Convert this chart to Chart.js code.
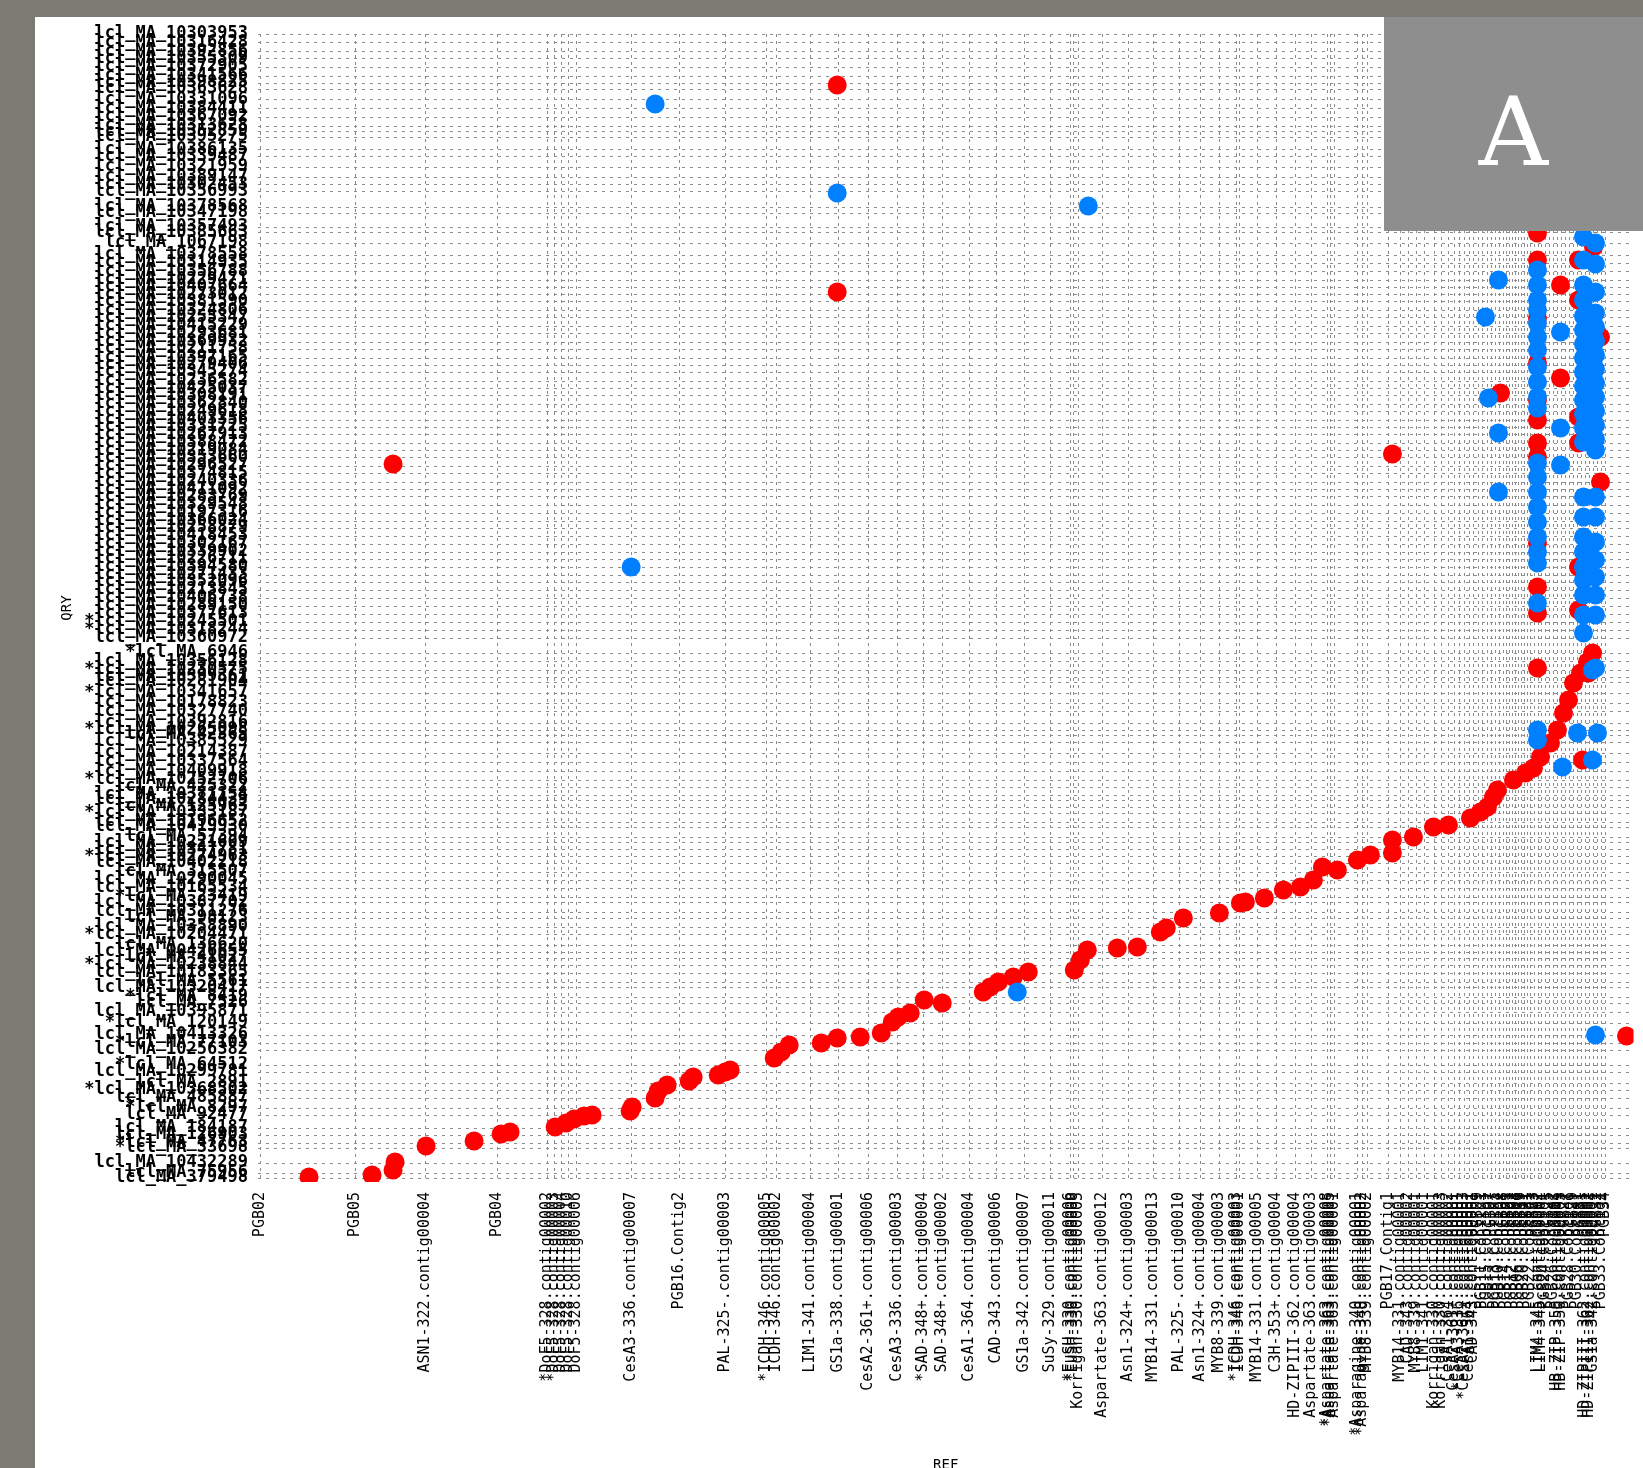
<!DOCTYPE html>
<html>
<head>
<meta charset="utf-8">
<title>REF vs QRY dot plot</title>
<script src="https://cdn.jsdelivr.net/npm/chart.js@4.4.1/dist/chart.umd.min.js"></script>
<style>
  html, body { margin: 0; padding: 0; overflow: hidden; background: #7b7b73; }
  #panel { position: absolute; left: 35px; top: 17px; right: 0; bottom: 0; background: #fff; }
  #plot { position: absolute; left: 0; top: 0; }
  #tag {
    position: absolute; left: 1384px; top: 17px; width: 259px; height: 214px;
    background: #8e8e8e; color: #fff; text-align: center;
    font-family: "DejaVu Serif", serif; font-size: 96px; line-height: 96px;
    box-sizing: border-box; padding-top: 67px;
  }
</style>
</head>
<body>
<div id="panel"></div>
<canvas id="plot" width="1643" height="1490"></canvas>
<div id="tag">A</div>
<script>
// reference contigs (x axis), cumulative start position
const refLabels = [
  "PGB02", "PGB05", "ASN1-322.contig00004", "PGB04",
  "*DoF5-328.contig00002", "*DoF5-328.contig00003", "DoF5-328.contig00004", "DoF5-328.contig00010", "DoF5-328.contig00006",
  "CesA3-336.contig00007", "PGB16.Contig2", "PAL-325-.contig00003",
  "*ICDH-346.contig00005", "ICDH-346.contig00002", "LIM1-341.contig00004", "GS1a-338.contig00001",
  "CesA2-361+.contig00006", "CesA3-336.contig00003", "*SAD-348+.contig00004", "SAD-348+.contig00002",
  "CesA1-364.contig00004", "CAD-343.contig00006", "GS1a-342.contig00007", "SuSy-329.contig00011",
  "*EuSH-330.contig00006", "*EuSH-330.contig00008", "Korrigan-330.contig00005", "Aspartate-363.contig00012",
  "Asn1-324+.contig00003", "MYB14-331.contig00013", "PAL-325-.contig00010", "Asn1-324+.contig00004",
  "MYB8-339.contig00003", "*ICDH-346.contig00003", "ICDH-346.contig00001", "MYB14-331.contig00005",
  "C3H-353+.contig00004", "HD-ZIPIII-362.contig00004", "Aspartate-363.contig00003",
  "*Aspartate-363.contig00008", "*Aspartate-363.contig00005", "Aspartate-363.contig00001",
  "*Asparagine-340.contig00001", "*Asparagine-340.contig00002", "MYB8-339.contig00002",
  "PGB17.Contig1", "MYB14-331.contig00001", "CAD-343.contig00002", "MYB8-339.contig00001",
  "LIM1-341.contig00001", "Korrigan-330.contig00001", "Korrigan-330.contig00003", "CesA1-364.contig00002",
  "CesA2-361+.contig00001", "*CesA3-336.contig00001", "*CesA2-361+.contig00003", "CesA1-364.contig00001",
  "CAD-343.contig00001", "PGB09", "PGB11.Contig1", "PGB15.Contig1", "PGB07", "PGB13.Contig1",
  "PGB10.Contig2", "PGB08", "PGB14.Contig1", "PGB01", "PGB12.Contig2", "PGB03", "PGB06.Contig1",
  "PGB19", "PGB20.Contig1", "PGB21", "PGB22.Contig1", "PGB23", "LIM4-345.contig00002",
  "LIM4-345.contig00001", "PGB24.Contig1", "PGB25", "PGB26.Contig2", "HB-ZIP-350.contig00001",
  "HB-ZIP-350.contig00003", "PGB27", "PGB28.Contig1", "PGB29", "PGB30.Contig1", "PGB31",
  "HD-ZIPIII-362.contig00001", "HD-ZIPIII-362.contig00002", "GS1a-342.contig00001", "PGB32",
  "PGB33.Contig1", "PGB34"
];
const refPos = [
  2, 97, 167, 239,
  289, 296, 303, 310, 318,
  373, 421, 467,
  508, 518, 552, 580,
  610, 639, 665, 684,
  711, 738, 766, 792,
  812, 815, 820, 844,
  870, 895, 921, 942,
  961, 978, 981, 999,
  1018, 1037, 1053,
  1069, 1072, 1076,
  1099, 1104, 1109,
  1130, 1142, 1150, 1158,
  1166, 1176, 1183, 1190,
  1196, 1201, 1206, 1211,
  1215, 1220, 1224, 1229, 1233, 1237,
  1241, 1245, 1248, 1251, 1254, 1257, 1260,
  1263, 1266, 1269, 1272, 1276, 1280,
  1283, 1287, 1291, 1295, 1299,
  1303, 1307, 1311, 1315, 1319, 1323,
  1327, 1331, 1335, 1339,
  1343, 1347
];

// query contigs (y axis), bottom to top
const qryLabels = [
  "lcl_MA_379498", "lcl_MA_75956", "lcl_MA_10432289", "*lcl_MA_33698", "*lcl_MA_47763", "lcl_MA_126903",
  "lcl_MA_184187", "lcl_MA_92477", "*lcl_MA_8297", "lcl_MA_485887", "*lcl_MA_10368502", "lcl_MA_2891",
  "lcl_MA_10299781", "*lcl_MA_64512",
  "lcl_MA_10256382", "*lcl_MA_77103", "lcl_MA_10413326", "*lcl_MA_120149", "lcl_MA_10395871", "lcl_MA_7526",
  "*lcl_MA_8419", "lcl_MA_10320417", "lcl_MA_5561", "lcl_MA_10183365", "*lcl_MA_10238844", "lcl_MA_41027",
  "lcl_MA_10426655", "lcl_MA_136620", "*lcl_MA_10204471", "lcl_MA_10358890", "lcl_MA_98123", "lcl_MA_10311276",
  "lcl_MA_10387702", "*lcl_MA_23419", "lcl_MA_10165534", "lcl_MA_10290045", "lcl_MA_315507", "lcl_MA_10402218",
  "*lcl_MA_10274963", "lcl_MA_10347781", "lcl_MA_10221609", "lcl_MA_57394", "lcl_MA_10419930", "lcl_MA_10196652",
  "*lcl_MA_10333187", "lcl_MA_125963", "lcl_MA_10284439", "lcl_MA_10371154", "lcl_MA_425322", "*lcl_MA_10252706",
  "lcl_MA_10409918", "lcl_MA_10337564", "lcl_MA_10214387", "lcl_MA_10385529", "lcl_MA_42365", "*lcl_MA_10265098",
  "lcl_MA_10392816", "lcl_MA_10327740", "lcl_MA_10178823", "*lcl_MA_10341657", "lcl_MA_10281904", "lcl_MA_10399361",
  "*lcl_MA_10230575", "lcl_MA_10356128", "*lcl_MA_6946",
  "lcl_MA_10360972", "*lcl_MA_10318244", "*lcl_MA_10245501", "lcl_MA_10377613", "lcl_MA_10289150", "lcl_MA_10406738",
  "lcl_MA_10213845", "lcl_MA_10352096", "lcl_MA_10271433", "lcl_MA_10394580", "lcl_MA_10226711", "lcl_MA_10339902",
  "lcl_MA_10302167", "lcl_MA_10418453", "lcl_MA_10258879", "lcl_MA_10366024", "lcl_MA_10197316", "lcl_MA_10329548",
  "lcl_MA_10283769", "lcl_MA_10411092", "lcl_MA_10240336", "lcl_MA_10374815", "lcl_MA_10296527", "lcl_MA_10353660",
  "lcl_MA_10219084", "lcl_MA_10388472", "lcl_MA_10267913", "lcl_MA_10331725", "lcl_MA_10403356", "lcl_MA_10249618",
  "lcl_MA_10362840", "lcl_MA_10308191", "lcl_MA_10425037", "lcl_MA_10236582", "lcl_MA_10345274", "lcl_MA_10279406",
  "lcl_MA_10397165", "lcl_MA_10211758", "lcl_MA_10369932", "lcl_MA_10293681", "lcl_MA_10415229", "lcl_MA_10255347",
  "lcl_MA_10324806", "lcl_MA_10381590", "lcl_MA_10273012", "lcl_MA_10407664", "lcl_MA_10229471", "lcl_MA_10356788",
  "lcl_MA_10314935", "lcl_MA_10378558", "lcl_MA_1067198", "lcl_MA_10385663", "lcl_MA_10357493",
  "lcl_MA_10347198", "lcl_MA_10378568", "lcl_MA_10356993", "lcl_MA_10302453", "lcl_MA_10389147", "lcl_MA_10321959",
  "lcl_MA_10339487", "lcl_MA_10386135", "lcl_MA_10395275", "lcl_MA_10352859", "lcl_MA_10313628", "lcl_MA_10367092",
  "lcl_MA_10384411", "lcl_MA_10331096", "lcl_MA_10363628", "lcl_MA_10398825", "lcl_MA_10341566", "lcl_MA_10372905",
  "lcl_MA_10355309", "lcl_MA_10392856", "lcl_MA_10316428", "lcl_MA_10303953"
];
const qryPos = [
  4, 9, 19, 34, 39, 47, 54, 67, 74, 84, 92, 99, 110, 117,
  132, 139, 147, 159, 170, 179, 185, 194, 200, 209, 217, 224, 230, 237, 247, 255, 264, 270, 279, 285,
  294, 302, 310, 319, 325, 332, 339, 345, 355, 360, 369, 375, 382, 387, 395, 402, 410, 420, 429, 440,
  447, 452, 459, 470, 479, 489, 500, 505, 512, 520, 529,
  544, 552, 560, 568, 576, 584, 592, 600, 607, 615, 623, 630, 638, 646, 654, 661, 669, 677, 685, 692,
  700, 708, 716, 724, 731, 739, 747, 755, 762, 770, 778, 786, 793, 801, 810, 817, 824, 833, 840, 848,
  856, 864, 871, 880, 887, 895, 902, 910, 919, 927, 939, 949, 955,
  969, 975, 990, 997, 1005, 1015, 1025, 1032, 1045, 1050, 1056, 1065, 1073, 1082, 1093, 1099, 1106,
  1115, 1123, 1130, 1139, 1148
];

// hits [ref position, query position]
const redDiagonal = [
  [51, 5], [114, 7], [135, 12], [137, 20], [168, 36], [216, 41], [243, 48], [252, 50], [297, 55], [308, 59],
  [316, 63], [326, 66], [334, 67], [372, 71], [374, 75], [397, 84], [400, 91], [409, 97], [431, 101], [435, 105],
  [460, 107], [467, 110], [472, 112], [516, 124], [523, 130], [531, 137], [563, 139], [579, 144], [602, 145],
  [623, 149], [634, 160], [640, 165], [652, 169], [666, 182], [684, 179], [725, 190], [732, 195], [740, 200],
  [755, 205], [770, 210], [816, 212], [822, 222], [829, 232], [859, 234], [879, 235], [902, 250], [908, 254],
  [925, 264], [961, 269], [982, 279], [987, 280], [1006, 284], [1025, 292], [1042, 295], [1055, 302], [1064, 315],
  [1079, 312], [1099, 322], [1112, 327], [1134, 329], [1134, 342], [1155, 345], [1175, 355], [1190, 357],
  [1212, 364], [1222, 370], [1229, 375], [1235, 385], [1239, 392], [1255, 402], [1267, 409], [1275, 414],
  [1282, 425], [1292, 439], [1299, 452], [1305, 469], [1310, 482], [1315, 499], [1322, 509], [1329, 520],
  [1334, 529]
];
const redOther = [
  [1368, 146], [1279, 514], [1134, 728], [135, 718], [579, 1097], [579, 890], [1242, 789], [1302, 897],
  [1302, 804], [1324, 422],
  [1279, 949], [1279, 922], [1279, 864], [1279, 819], [1279, 782], [1279, 762], [1279, 739], [1279, 725],
  [1279, 639], [1279, 595], [1279, 569],
  [1335, 935], [1320, 922], [1320, 882], [1342, 845], [1320, 765], [1320, 739], [1342, 700], [1320, 615],
  [1320, 572], [1330, 509]
];
const blueOther = [
  [397, 1078], [579, 989], [830, 976], [373, 615], [759, 190], [1337, 147], [1240, 902], [1227, 865],
  [1230, 784], [1240, 749], [1240, 690], [1302, 850], [1302, 754], [1302, 717], [1279, 452], [1279, 442],
  [1319, 449], [1339, 449], [1334, 422], [1304, 415], [1334, 512]
];
const blueColumns = [
  [1279, 912], [1279, 897], [1279, 882], [1279, 872], [1279, 859], [1279, 845], [1279, 832], [1279, 815],
  [1279, 800], [1279, 785], [1279, 774], [1279, 719], [1279, 705], [1279, 690], [1279, 675], [1279, 660],
  [1279, 645], [1279, 630], [1279, 619], [1279, 579],
  [1325, 945], [1325, 922], [1325, 897], [1325, 882], [1325, 866], [1325, 852], [1325, 838], [1325, 824],
  [1325, 810], [1325, 796], [1325, 782], [1325, 768], [1325, 754], [1325, 740], [1325, 685], [1325, 665],
  [1325, 645], [1325, 630], [1325, 615], [1325, 602], [1325, 587], [1325, 567], [1325, 549],
  [1337, 939], [1337, 918], [1337, 890], [1337, 869], [1337, 855], [1337, 841], [1337, 827], [1337, 813],
  [1337, 799], [1337, 785], [1337, 771], [1337, 757], [1337, 743], [1337, 732], [1337, 685], [1337, 665],
  [1337, 640], [1337, 622], [1337, 605], [1337, 587], [1337, 567], [1337, 514]
];

const toPoints = (arr) => arr.map(([x, y]) => ({ x, y }));

const ctx = document.getElementById("plot");
new Chart(ctx, {
  type: "scatter",
  data: {
    datasets: [
      {
        label: "minus",
        data: toPoints(blueOther.concat(blueColumns)),
        backgroundColor: "rgb(0, 128, 255)",
        borderWidth: 0,
        pointRadius: 9.5,
        pointHoverRadius: 9.5,
      },
      {
        label: "plus",
        data: toPoints(redDiagonal.concat(redOther)),
        backgroundColor: "rgb(255, 0, 0)",
        borderWidth: 0,
        pointRadius: 9.5,
        pointHoverRadius: 9.5,
      },
    ],
  },
  options: {
    responsive: false,
    animation: false,
    layout: { padding: { left: 55, top: 34, right: 3, bottom: 0 } },
    plugins: { legend: { display: false }, tooltip: { enabled: false } },
    scales: {
      x: {
        type: "linear",
        min: 0,
        max: 1375,
        afterBuildTicks: (s) => { s.ticks = refPos.map((v) => ({ value: v })); },
        afterFit: (s) => { s.height = 308; },
        grid: { color: "#8c8c8c", lineWidth: 1, drawTicks: false },
        border: { display: false, dash: [3, 4] },
        ticks: {
          autoSkip: false,
          minRotation: 90,
          maxRotation: 90,
          padding: 10,
          color: "#000",
          font: { family: "DejaVu Sans Mono", size: 15 },
          callback: (v, i) => refLabels[i] || "",
        },
        title: {
          display: true,
          text: "REF",
          color: "#000",
          font: { family: "DejaVu Sans Mono", size: 14 },
          padding: { top: 0, bottom: 16 },
        },
      },
      y: {
        type: "linear",
        min: 0,
        max: 1148,
        afterBuildTicks: (s) => { s.ticks = qryPos.map((v) => ({ value: v })); },
        afterFit: (s) => { s.width = 203; },
        grid: { color: "#8c8c8c", lineWidth: 1, drawTicks: false },
        border: { display: false, dash: [3, 5] },
        ticks: {
          autoSkip: false,
          padding: 10,
          color: "#000",
          font: { family: "DejaVu Sans Mono", size: 17, weight: "bold" },
          callback: (v, i) => qryLabels[i] || "",
        },
        title: {
          display: true,
          text: "QRY",
          color: "#000",
          font: { family: "DejaVu Sans Mono", size: 14 },
          padding: { top: 4, bottom: 0 },
        },
      },
    },
  },
});
</script>
</body>
</html>
